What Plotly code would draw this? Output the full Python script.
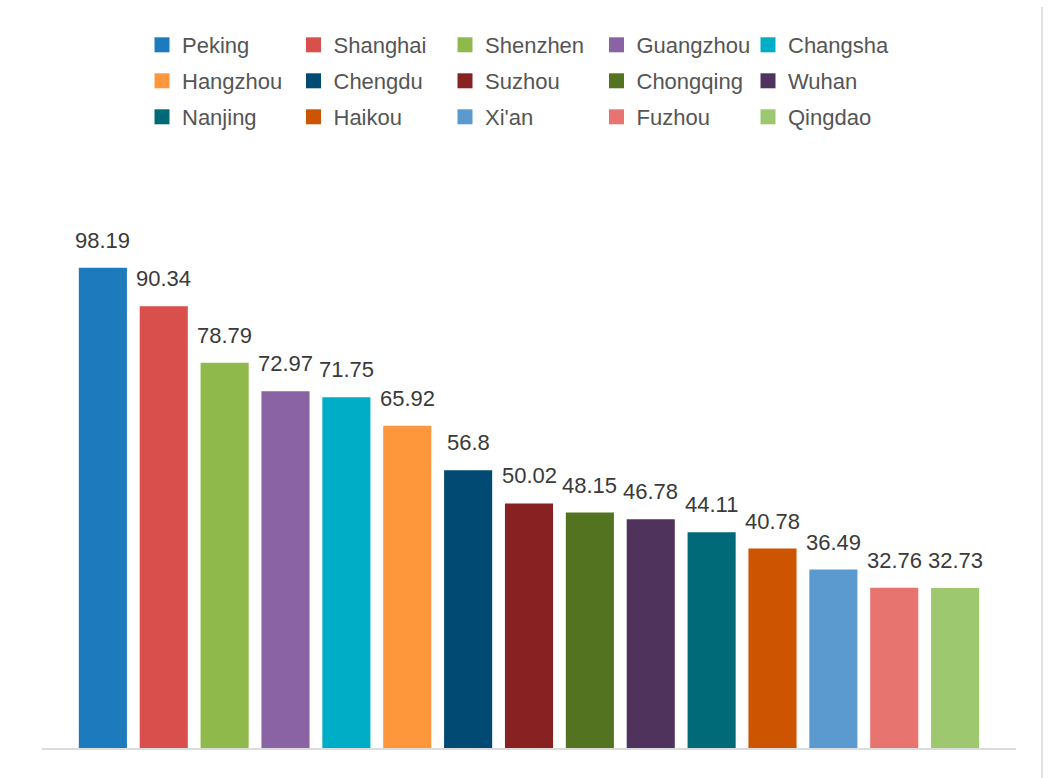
import plotly.graph_objects as go

cities = ["Peking", "Shanghai", "Shenzhen", "Guangzhou", "Changsha",
          "Hangzhou", "Chengdu", "Suzhou", "Chongqing", "Wuhan",
          "Nanjing", "Haikou", "Xi'an", "Fuzhou", "Qingdao"]
values = [98.19, 90.34, 78.79, 72.97, 71.75,
          65.92, 56.8, 50.02, 48.15, 46.78,
          44.11, 40.78, 36.49, 32.76, 32.73]
colors = ["#1d7bbd", "#d94f4b", "#8fba4b", "#8963a4", "#00adc6",
          "#fe973b", "#004a74", "#882122", "#547321", "#4f335d",
          "#006a78", "#cd5401", "#5a9acf", "#e87470", "#9ec870"]

W, H = 1049, 778
FONT = "Liberation Sans, Arial, Helvetica, sans-serif"

fig = go.Figure()
legend_names = ["legend", "legend2", "legend3"]
for i, (c, v, col) in enumerate(zip(cities, values, colors)):
    fig.add_trace(go.Bar(
        x=[c], y=[v], name=c, width=0.79,
        marker=dict(color=col, line=dict(width=0)),
        showlegend=False, legendgroup=c,
        hoverinfo="x+y",
    ))
    # legend entry with a larger square swatch
    fig.add_trace(go.Scatter(
        x=[None], y=[None], mode="markers", name=c, legendgroup=c,
        marker=dict(symbol="square", size=15, color=col),
        legend=legend_names[i // 5], showlegend=True,
    ))
    fig.add_annotation(
        x=c, y=v, text=str(v), showarrow=False,
        xanchor="center", yanchor="bottom", yshift=13,
        font=dict(family=FONT, size=22, color="#3a3a3a"),
    )

row_y = [45, 81, 117]
legend_common = dict(
    orientation="h", xref="container", yref="container",
    x=142 / W, xanchor="left", yanchor="middle",
    entrywidth=106.5, entrywidthmode="pixels",
    font=dict(family=FONT, size=22, color="#555555"),
    bgcolor="rgba(0,0,0,0)", itemclick=False, itemdoubleclick=False,
)
layout_legends = {}
for name, ry in zip(legend_names, row_y):
    layout_legends[name] = dict(legend_common, y=1 - ry / H)

fig.update_layout(
    width=W, height=H,
    margin=dict(l=42, r=33, t=259, b=30),
    paper_bgcolor="white", plot_bgcolor="white",
    barmode="overlay",
    showlegend=True,
    xaxis=dict(
        type="category", categoryorder="array", categoryarray=cities,
        range=[-1, 15], showticklabels=False, ticks="",
        showgrid=False, zeroline=False,
        showline=True, linecolor="#dcdcdc", linewidth=2,
    ),
    yaxis=dict(range=[0, 100], visible=False, showgrid=False, zeroline=False),
    shapes=[dict(type="line", xref="paper", yref="paper",
                 x0=(1042 - 42) / 974, x1=(1042 - 42) / 974,
                 y0=(748 - 778) / 489, y1=(748 - 7) / 489,
                 line=dict(color="#e2e2e2", width=2))],
    **layout_legends,
)

fig.write_html("out.html")
